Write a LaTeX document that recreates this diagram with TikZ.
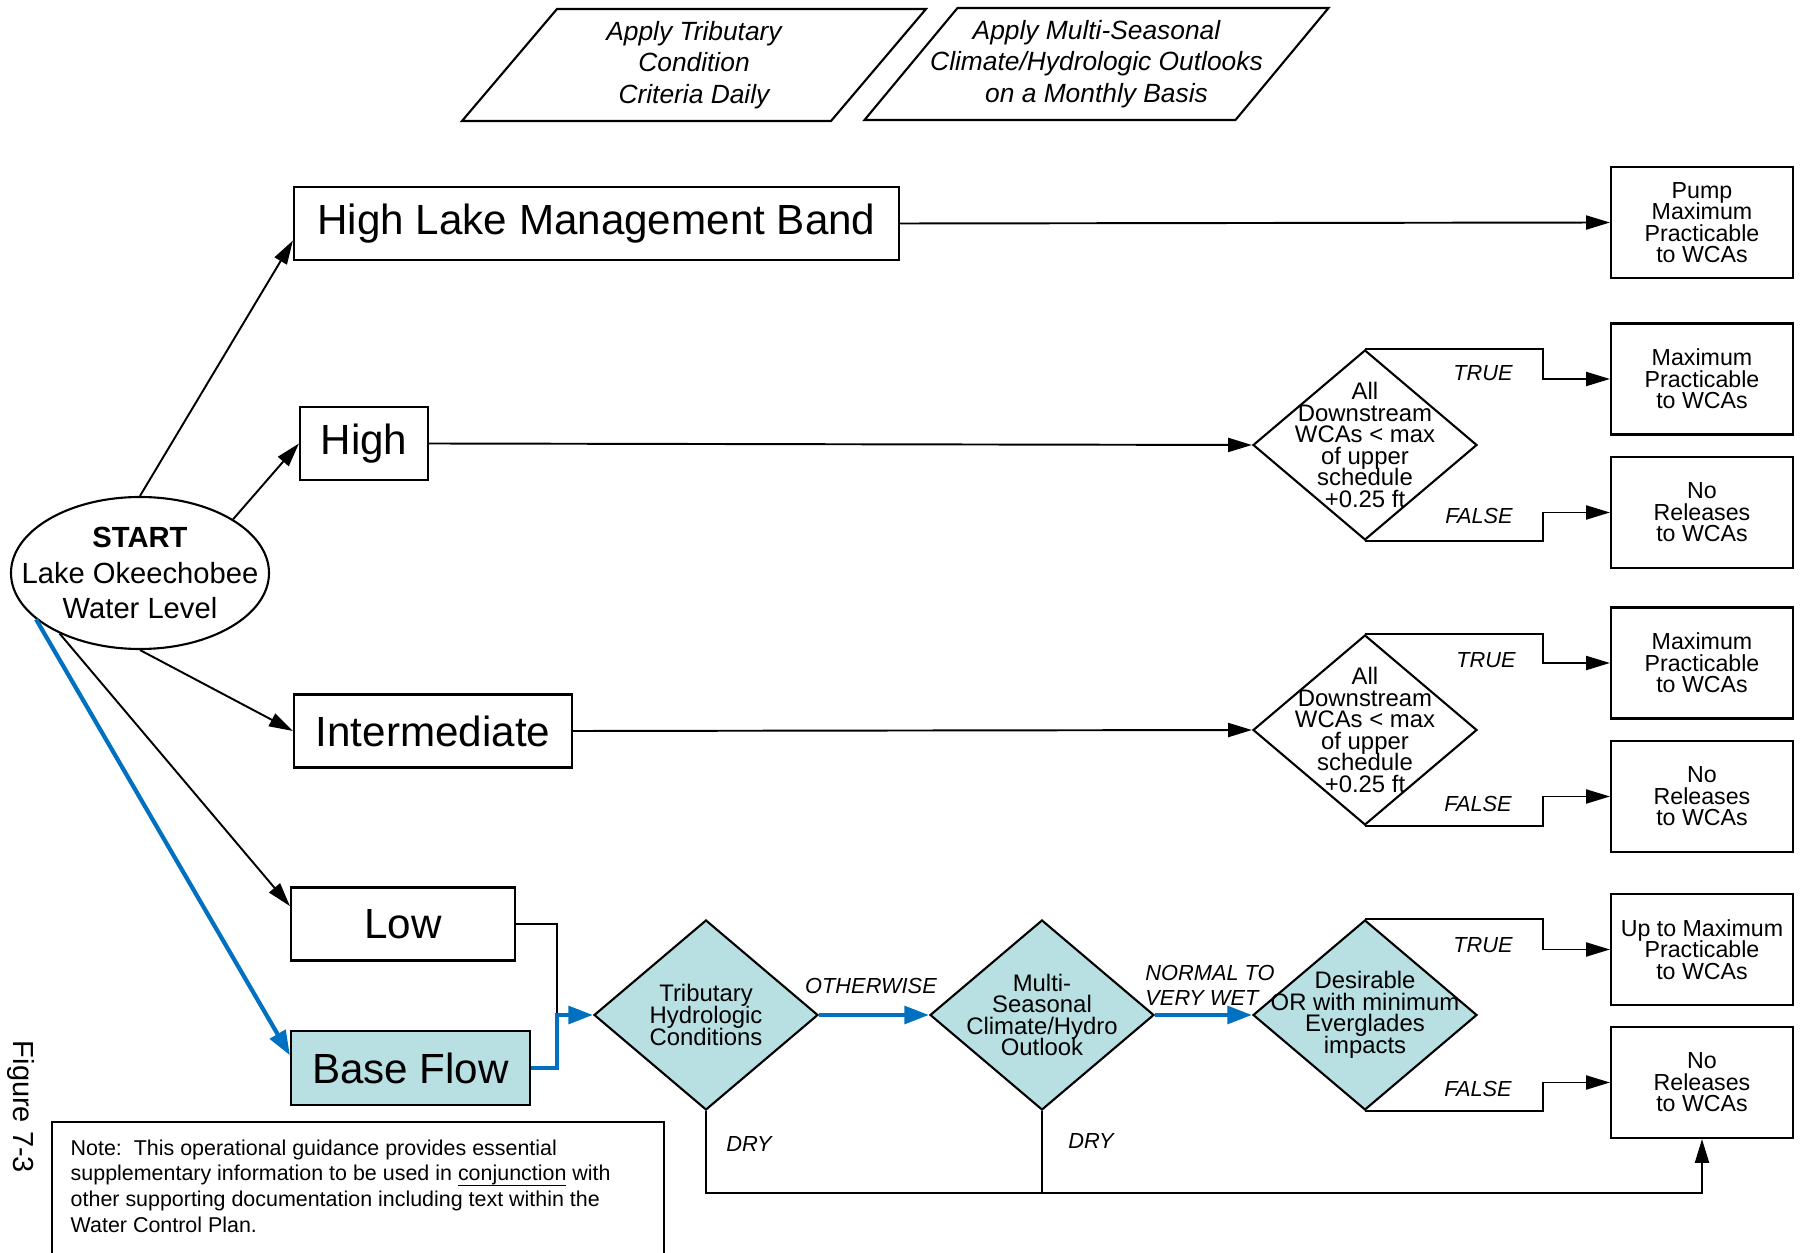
\documentclass[tikz,border=0pt]{standalone}
\usepackage{fontspec}
\setmainfont{Liberation Sans}
\usepackage{xcolor}
\usepackage{tikz}
\usetikzlibrary{shapes.geometric, arrows.meta, calc}

\definecolor{flowteal}{RGB}{184,223,226}
\definecolor{flowblue}{RGB}{0,112,192}
\newcommand{\tightlines}{\lineskiplimit=-10pt\lineskip=0pt\relax}
\newsavebox{\ulbox}
\newcommand{\noteul}[1]{\sbox{\ulbox}{#1}\rlap{\vrule height -1.15pt depth 1.55pt width \wd\ulbox}\usebox{\ulbox}}

\begin{document}
\begin{tikzpicture}[
  levelbox/.style={draw, line width=0.6pt, minimum height=0.73cm, inner sep=0pt, font=\fontsize{12}{14}\selectfont},
  outbox/.style={draw, line width=0.6pt, minimum width=1.82cm, minimum height=1.11cm, inner sep=0pt, align=center, font=\fontsize{6.6}{6.1}\selectfont\tightlines},
  decision/.style={diamond, draw, line width=0.6pt, fill=flowteal, minimum width=2.24cm, minimum height=1.9cm, inner sep=0pt},
  dtext/.style={align=center, inner sep=0pt, font=\fontsize{6.8}{6.15}\selectfont\tightlines},
  crittext/.style={align=center, inner sep=0pt, font=\itshape\fontsize{7.5}{9}\selectfont},
  tag/.style={inner sep=0pt, font=\itshape\fontsize{6.2}{7.2}\selectfont},
  arr/.style={line width=0.55pt, -{Triangle[length=6.8pt,width=4pt]}},
  bluearr/.style={line width=1.2pt, flowblue, -{Triangle[length=7pt,width=5pt]}}
]
\useasboundingbox (0,0) rectangle (18.03,12.52);

\node[crittext] (tribcrit) at (6.94,11.87) {Apply Tributary\\Condition\\Criteria Daily};
\node[crittext] (climcrit) at (10.965,11.88) {Apply Multi-Seasonal\\Climate/Hydrologic Outlooks\\on a Monthly Basis};
\draw[line width=0.6pt] ($(tribcrit)+(-1.37,0.56)$) -- ($(tribcrit)+(2.32,0.56)$) -- ($(tribcrit)+(1.37,-0.56)$) -- ($(tribcrit)+(-2.32,-0.56)$) -- cycle;
\draw[line width=0.6pt] ($(climcrit)+(-1.39,0.56)$) -- ($(climcrit)+(2.32,0.56)$) -- ($(climcrit)+(1.39,-0.56)$) -- ($(climcrit)+(-2.32,-0.56)$) -- cycle;

\node[ellipse, draw, line width=0.6pt, minimum width=2.58cm, minimum height=1.52cm, inner xsep=-0.28cm, inner ysep=0pt, align=center, font=\fontsize{8.3}{10.1}\selectfont] (start) at (1.40,6.79) {\textbf{START}\\Lake Okeechobee\\Water Level};

\node[levelbox, minimum width=6.05cm] (hlmb) at (5.965,10.285) {High Lake Management Band};
\node[outbox] (pump) at (17.02,10.295) {Pump\\Maximum\\Practicable\\to WCAs};

\node[levelbox, minimum width=1.28cm] (high) at (3.64,8.085) {High};
\node[decision, fill=white] (hidec) at (13.65,8.07) {};
\node[dtext] (hidectext) at (hidec) {All\\Downstream\\WCAs < max\\of upper\\schedule\\+0.25 ft};
\node[outbox] (himax) at (17.02,8.73) {Maximum\\Practicable\\to WCAs};
\node[outbox] (hinone) at (17.02,7.395) {No\\Releases\\to WCAs};

\node[levelbox, minimum width=2.78cm] (inter) at (4.33,5.21) {Intermediate};
\node[decision, fill=white] (intdec) at (13.65,5.22) {};
\node[dtext] (intdectext) at (intdec) {All\\Downstream\\WCAs < max\\of upper\\schedule\\+0.25 ft};
\node[outbox] (intmax) at (17.02,5.89) {Maximum\\Practicable\\to WCAs};
\node[outbox] (intnone) at (17.02,4.555) {No\\Releases\\to WCAs};

\node[levelbox, minimum width=2.24cm] (low) at (4.03,3.28) {Low};
\node[levelbox, minimum width=2.39cm, minimum height=0.74cm, fill=flowteal] (base) at (4.105,1.84) {Base Flow};
\node[decision] (tribdec) at (7.06,2.37) {};
\node[dtext] (tribdectext) at (tribdec) {Tributary\\Hydrologic\\Conditions};
\node[decision] (climdec) at (10.42,2.37) {};
\node[dtext] (climdectext) at (climdec) {Multi-\\Seasonal\\Climate/Hydro\\Outlook};
\node[decision] (desdec) at (13.65,2.37) {};
\node[dtext] (desdectext) at (desdec) {Desirable\\OR with minimum\\Everglades\\impacts};
\node[outbox] (upmax) at (17.02,3.025) {Up to Maximum\\Practicable\\to WCAs};
\node[outbox] (lownone) at (17.02,1.695) {No\\Releases\\to WCAs};

\node[tag] (true1) at (14.83,8.79) {TRUE};
\node[tag] (false1) at (14.79,7.36) {FALSE};
\node[tag] (true2) at (14.86,5.92) {TRUE};
\node[tag] (false2) at (14.78,4.48) {FALSE};
\node[tag] (true3) at (14.83,3.07) {TRUE};
\node[tag] (false3) at (14.78,1.63) {FALSE};
\node[tag] (otherwise) at (8.71,2.66) {OTHERWISE};
\node[tag, align=left] (wet) at (12.10,2.665) {NORMAL TO\\VERY WET};
\node[tag] (dry1) at (7.49,1.08) {DRY};
\node[tag] (dry2) at (10.91,1.11) {DRY};

\coordinate (merge) at (5.57,2.37);
\coordinate (dryend) at (17.02,0.59);

\draw[arr] (start.north) -- ($(hlmb.west)+(0,-0.17)$);
\draw[arr] (start.30) -- (high.west);
\draw[arr] (start.south) -- (inter.west);
\draw[arr] (start.217) -- (low.171);
\draw[bluearr] (start.204) -- (base.174);

\draw[arr] (hlmb.east) -- (pump.west);
\draw[arr] (high.east) -- (hidec.west);
\draw[arr] (inter.east) -- (intdec.west);
\draw[arr] (hidec.north) -- ++(1.78,0) |- (himax.west);
\draw[arr] (hidec.south) -- ++(1.78,0) |- (hinone.west);
\draw[arr] (intdec.north) -- ++(1.78,0) |- (intmax.west);
\draw[arr] (intdec.south) -- ++(1.78,0) |- (intnone.west);
\draw[arr] (desdec.north) -- ++(1.78,0) |- (upmax.west);
\draw[arr] (desdec.south) -- ++(1.78,0) |- (lownone.west);

\draw[line width=0.55pt] (low.east) -| (merge);
\draw[bluearr] (base.east) -| (merge) -- (tribdec.west);
\draw[bluearr] (tribdec.east) -- (climdec.west);
\draw[bluearr] (climdec.east) -- (desdec.west);

\draw[arr] (tribdec.south) |- (dryend) -- (lownone.south);
\draw[line width=0.55pt] (climdec.south) -- (climdec.south |- dryend);

\draw[line width=0.6pt] (0.52,-0.2) |- (6.64,1.30) -- (6.64,-0.2);
\node[anchor=north west, align=left, inner sep=0pt, font=\fontsize{6.1}{7.3}\selectfont] (note) at (0.70,1.13) {Note:\ \ This operational guidance provides essential\\supplementary information to be used in \noteul{conjunction} with\\other supporting documentation including text within the\\Water Control Plan.};
\node[rotate=-90, inner sep=0pt, font=\fontsize{8.25}{10}\selectfont] (figlabel) at (0.21,1.45) {Figure 7-3};
\end{tikzpicture}
\end{document}
